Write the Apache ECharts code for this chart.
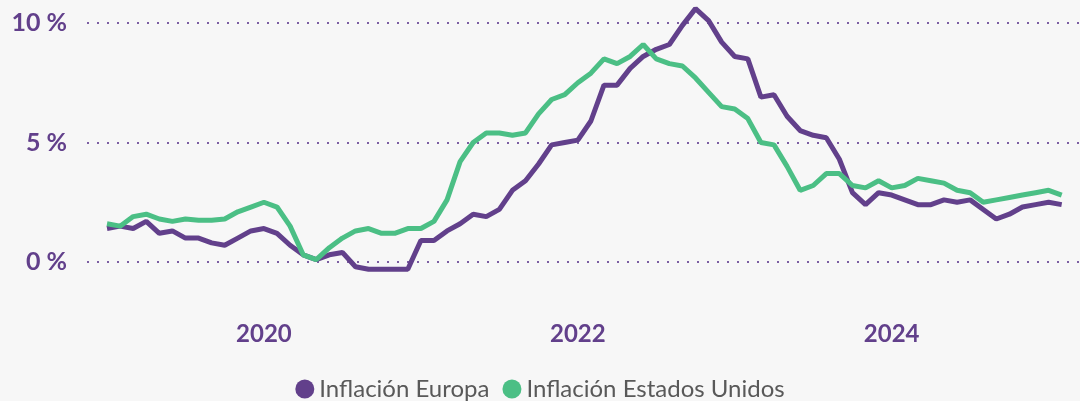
<!DOCTYPE html>
<html>
<head>
<meta charset="utf-8">
<script src="https://cdn.jsdelivr.net/npm/echarts@6/dist/echarts.min.js"></script>
<style>
  html, body { margin: 0; padding: 0; background: #f7f7f7; }
  #chart { width: 1080px; height: 401px; }
</style>
</head>
<body>
<div id="chart"></div>
<script>
const months = [
  '2019-01', '2019-02', '2019-03', '2019-04', '2019-05', '2019-06', '2019-07', '2019-08', '2019-09', '2019-10', '2019-11', '2019-12',
  '2020-01', '2020-02', '2020-03', '2020-04', '2020-05', '2020-06', '2020-07', '2020-08', '2020-09', '2020-10', '2020-11', '2020-12',
  '2021-01', '2021-02', '2021-03', '2021-04', '2021-05', '2021-06', '2021-07', '2021-08', '2021-09', '2021-10', '2021-11', '2021-12',
  '2022-01', '2022-02', '2022-03', '2022-04', '2022-05', '2022-06', '2022-07', '2022-08', '2022-09', '2022-10', '2022-11', '2022-12',
  '2023-01', '2023-02', '2023-03', '2023-04', '2023-05', '2023-06', '2023-07', '2023-08', '2023-09', '2023-10', '2023-11', '2023-12',
  '2024-01', '2024-02', '2024-03', '2024-04', '2024-05', '2024-06', '2024-07', '2024-08', '2024-09', '2024-10', '2024-11', '2024-12',
  '2025-01', '2025-02'
]

const europa = [
  1.4, 1.5, 1.4, 1.7, 1.2, 1.3, 1.0, 1.0, 0.8, 0.7, 1.0, 1.3,
  1.4, 1.2, 0.7, 0.3, 0.1, 0.3, 0.4, -0.2, -0.3, -0.3, -0.3, -0.3,
  0.9, 0.9, 1.3, 1.6, 2.0, 1.9, 2.2, 3.0, 3.4, 4.1, 4.9, 5.0,
  5.1, 5.9, 7.4, 7.4, 8.1, 8.6, 8.9, 9.1, 9.9, 10.6, 10.1, 9.2,
  8.6, 8.5, 6.9, 7.0, 6.1, 5.5, 5.3, 5.2, 4.3, 2.9, 2.4, 2.9,
  2.8, 2.6, 2.4, 2.4, 2.6, 2.5, 2.6, 2.2, 1.8, 2.0, 2.3, 2.4,
  2.5, 2.4
]

const eeuu = [
  1.6, 1.5, 1.9, 2.0, 1.8, 1.7, 1.8, 1.75, 1.75, 1.8, 2.1, 2.3,
  2.5, 2.3, 1.5, 0.3, 0.1, 0.6, 1.0, 1.3, 1.4, 1.2, 1.2, 1.4,
  1.4, 1.7, 2.6, 4.2, 5.0, 5.4, 5.4, 5.3, 5.4, 6.2, 6.8, 7.0,
  7.5, 7.9, 8.5, 8.3, 8.6, 9.1, 8.5, 8.3, 8.2, 7.7, 7.1, 6.5,
  6.4, 6.0, 5.0, 4.9, 4.0, 3.0, 3.2, 3.7, 3.7, 3.2, 3.1, 3.4,
  3.1, 3.2, 3.5, 3.4, 3.3, 3.0, 2.9, 2.5, 2.6, 2.7, 2.8, 2.9,
  3.0, 2.8
]

// month indexes that get a year label (January 2020, 2022, 2024)
const yearTicks = [12, 36, 60]

const purple = '#62408b'
const green = '#4bbf85'
const font = 'Lato'

const chart = echarts.init(document.getElementById('chart'))

chart.setOption({
  backgroundColor: '#f7f7f7',
  animation: false,
  grid: {
    left: 87,
    right: 0,
    top: 23,
    bottom: 139
  },
  legend: {
    top: 372,
    left: 'center',
    icon: 'circle',
    itemWidth: 19,
    itemHeight: 19,
    itemGap: 13,
    textStyle: {
      color: '#595959',
      fontSize: 24,
      fontFamily: font
    },
    data: ['Inflación Europa', 'Inflación Estados Unidos']
  },
  xAxis: {
    type: 'value',
    min: -1.53,
    max: 74.4,
    axisLine: { show: false },
    axisTick: { show: false },
    splitLine: { show: false },
    axisLabel: {
      customValues: yearTicks,
      margin: 60,
      color: purple,
      fontSize: 24,
      fontWeight: 'bold',
      fontFamily: font,
      formatter: v => months[Math.round(v)].slice(0, 4)
    }
  },
  yAxis: {
    type: 'value',
    min: 0,
    max: 10,
    interval: 5,
    axisLine: { show: false },
    axisTick: { show: false },
    axisLabel: {
      margin: 20,
      color: purple,
      fontSize: 25,
      fontWeight: 'bold',
      fontFamily: font,
      formatter: '{value} %'
    },
    splitLine: {
      lineStyle: {
        color: '#7d5fa3',
        width: 2,
        type: [2, 8]
      }
    }
  },
  series: [
    {
      name: 'Inflación Europa',
      type: 'line',
      clip: false,
      showSymbol: false,
      color: purple,
      lineStyle: { width: 5, color: purple },
      data: europa.map((v, i) => [i, v])
    },
    {
      name: 'Inflación Estados Unidos',
      type: 'line',
      clip: false,
      showSymbol: false,
      color: green,
      lineStyle: { width: 5, color: green },
      data: eeuu.map((v, i) => [i, v])
    }
  ]
})
</script>
</body>
</html>
